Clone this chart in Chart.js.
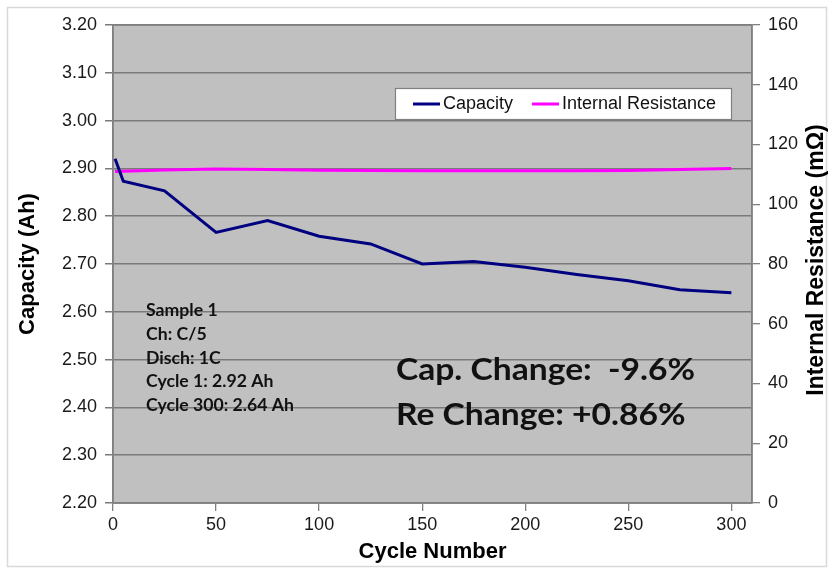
<!DOCTYPE html>
<html>
<head>
<meta charset="utf-8">
<script src="https://cdn.jsdelivr.net/npm/chart.js@4.4.1/dist/chart.umd.min.js"></script>
<style>
html, body { margin: 0; padding: 0; background: #fff; }
</style>
</head>
<body>
<canvas id="myChart" width="832" height="571"></canvas>
<script>
// values
const cycles = [1, 5, 25, 50, 75, 100, 125, 150, 175, 200, 225, 250, 275, 300];
const capacity = [2.92, 2.873, 2.853, 2.766, 2.791, 2.758, 2.742, 2.700, 2.705, 2.693, 2.678, 2.665, 2.646, 2.640];
const resCycles = [1, 25, 50, 75, 100, 125, 150, 175, 200, 225, 250, 275, 300];
const resistance = [111.0, 111.5, 111.8, 111.6, 111.4, 111.3, 111.2, 111.2, 111.2, 111.2, 111.3, 111.6, 111.95];
const xTicks = [0, 50, 100, 150, 200, 250, 300];

const seriesNames = ['Capacity', 'Internal Resistance'];
const seriesColors = ['#000080', '#ff00ff'];
const noteLines = ['Sample 1', 'Ch: C/5', 'Disch: 1C', 'Cycle 1: 2.92 Ah', 'Cycle 300: 2.64 Ah'];
const changeLines = ['Cap. Change:  -9.6%', 'Re Change: +0.86%'];

const arial = 'Liberation Sans, Arial, sans-serif';
const calibri = 'Lato, Carlito, sans-serif';

let toPoints = function (xs, ys) {
    let pts = [];
    xs.forEach((x, i) => pts.push({ x: x, y: ys[i] }));
    return pts;
};

// text a bit wider than the font gives, like the stretched original
let wideText = function (ctx, text, x, y, sx) {
    ctx.save();
    ctx.translate(x, y);
    ctx.scale(sx, 1);
    ctx.fillText(text, 0, 0);
    ctx.restore();
};

let extras = {
    id: 'extras',
    beforeDraw(chart) {
        let ctx = chart.ctx;
        let a = chart.chartArea;
        ctx.save();
        ctx.fillStyle = '#fff';
        ctx.fillRect(0, 0, chart.width, chart.height);
        ctx.strokeStyle = '#d9d9d9';
        ctx.lineWidth = 1.5;
        ctx.strokeRect(7.5, 7.5, 819, 559);
        ctx.fillStyle = '#c0c0c0';
        ctx.fillRect(a.left, a.top, a.right - a.left, a.bottom - a.top);
        ctx.restore();
    },
    afterDraw(chart) {
        let ctx = chart.ctx;
        let a = chart.chartArea;
        ctx.save();
        // frame of the plot
        ctx.strokeStyle = '#808080';
        ctx.lineWidth = 1.5;
        ctx.strokeRect(a.left, a.top, a.right - a.left, a.bottom - a.top);

        // right axis title, reading bottom to top
        ctx.fillStyle = '#000';
        ctx.font = 'bold 23px ' + arial;
        ctx.textAlign = 'center';
        ctx.textBaseline = 'middle';
        ctx.translate(817, (a.top + a.bottom) / 2 - 4);
        ctx.rotate(-Math.PI / 2);
        ctx.fillText('Internal Resistance (m\u03A9)', 0, 0);
        ctx.setTransform(1, 0, 0, 1, 0, 0);

        // legend box
        ctx.fillStyle = '#fff';
        ctx.fillRect(395, 88, 336, 31);
        ctx.strokeStyle = '#808080';
        ctx.lineWidth = 1.2;
        ctx.strokeRect(395.5, 88.5, 336, 31);
        ctx.font = '18px ' + arial;
        ctx.textAlign = 'left';
        ctx.textBaseline = 'middle';
        let lx = 413;
        chart.data.datasets.forEach((ds) => {
            ctx.strokeStyle = ds.borderColor;
            ctx.lineWidth = 3;
            ctx.beginPath();
            ctx.moveTo(lx, 104);
            ctx.lineTo(lx + 27, 104);
            ctx.stroke();
            ctx.fillStyle = '#111';
            ctx.fillText(ds.label, lx + 30, 104);
            lx += 30 + ctx.measureText(ds.label).width + 19;
        });

        // notes
        ctx.fillStyle = '#111';
        ctx.font = 'bold 16.5px ' + calibri;
        noteLines.forEach((t, i) => wideText(ctx, t, 146, 311 + i * 23.6, 1.07));
        ctx.font = 'bold 30px ' + calibri;
        changeLines.forEach((t, i) => wideText(ctx, t, 396, 370 + i * 45, 1.12));
        ctx.restore();
    }
};

let ctx = document.getElementById('myChart').getContext('2d');

let myChart = new Chart(ctx, {
    type: 'line',
    data: {
        datasets: [{
            label: seriesNames[0],
            data: toPoints(cycles, capacity),
            borderColor: seriesColors[0],
            backgroundColor: seriesColors[0],
            borderWidth: 3,
            pointRadius: 0,
            tension: 0,
            yAxisID: 'y'
        }, {
            label: seriesNames[1],
            data: toPoints(resCycles, resistance),
            borderColor: seriesColors[1],
            backgroundColor: seriesColors[1],
            borderWidth: 3,
            pointRadius: 0,
            tension: 0,
            yAxisID: 'y1'
        }]
    },
    options: {
        responsive: false,
        animation: false,
        devicePixelRatio: 1,
        layout: { padding: { top: 25, left: 0, right: 0, bottom: 0 } },
        plugins: {
            legend: { display: false },
            tooltip: { enabled: false }
        },
        scales: {
            x: {
                type: 'linear',
                min: 0,
                max: 310,
                afterBuildTicks: (s) => { s.ticks = xTicks.map((v) => ({ value: v })); },
                afterFit: (s) => { s.height = 68; },
                ticks: { padding: 3, color: '#1a1a1a', font: { family: arial, size: 18 } },
                grid: { drawOnChartArea: false, tickLength: 8, color: '#808080', lineWidth: 1.3 },
                border: { color: '#808080', width: 1.5 },
                title: {
                    display: true,
                    text: 'Cycle Number',
                    color: '#000',
                    font: { family: arial, size: 22, weight: 'bold' },
                    padding: { top: 0, bottom: 6 }
                }
            },
            y: {
                position: 'left',
                min: 2.2,
                max: 3.2,
                afterFit: (s) => { s.width = 113; },
                ticks: {
                    stepSize: 0.1,
                    padding: 8,
                    color: '#1a1a1a',
                    font: { family: arial, size: 18 },
                    callback: (v) => v.toFixed(2)
                },
                grid: { color: '#7a7a7a', lineWidth: 1.5, tickLength: 8 },
                border: { color: '#808080', width: 1.5 },
                title: {
                    display: true,
                    text: 'Capacity (Ah)',
                    color: '#000',
                    font: { family: arial, size: 22, weight: 'bold' },
                    padding: { top: 15, bottom: 0 }
                }
            },
            y1: {
                position: 'right',
                min: 0,
                max: 160,
                afterFit: (s) => { s.width = 80; },
                ticks: { stepSize: 20, padding: 8, color: '#1a1a1a', font: { family: arial, size: 18 } },
                grid: { drawOnChartArea: false, tickLength: 8, color: '#808080', lineWidth: 1.3 },
                border: { color: '#808080', width: 1.5 }
            }
        }
    },
    plugins: [extras]
});
</script>
</body>
</html>
